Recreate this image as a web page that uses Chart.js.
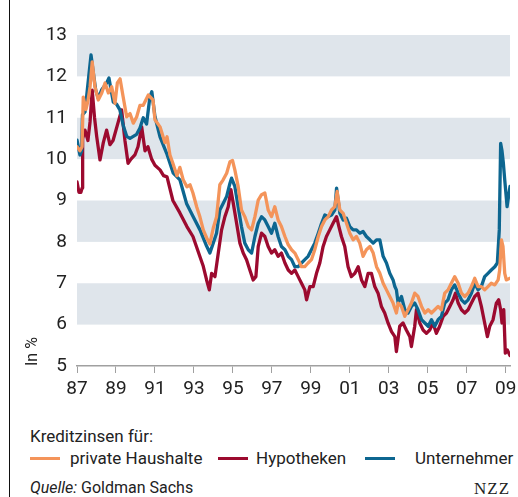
<!DOCTYPE html>
<html><head><meta charset="utf-8">
<script src="https://cdn.jsdelivr.net/npm/chart.js@4.4.1/dist/chart.umd.min.js"></script>
<style>
html,body{margin:0;padding:0;background:#fff;}
#wrap{position:relative;width:518px;height:497px;overflow:hidden;font-family:Roboto,'Liberation Sans',sans-serif;color:#222;}
#frame{position:absolute;left:9px;top:0;width:1px;height:497px;background:#111;}
#c{position:absolute;left:0;top:0;}
.t{position:absolute;white-space:nowrap;line-height:1;}
.sw{position:absolute;height:3px;width:30px;}
</style></head>
<body>
<div id="wrap">
  <canvas id="c" width="518" height="400"></canvas>
  <div id="frame"></div>
  <div class="t" id="legTitle" style="left:30px;top:428px;font-size:17px;">Kreditzinsen für:</div>
  <div id="legend"></div>
  <div class="t" style="left:30px;top:480px;font-size:16px;"><i>Quelle:</i> Goldman Sachs</div>
  <div class="t" style="left:474px;top:480px;font-size:17px;font-family:'Liberation Serif','DejaVu Serif',serif;letter-spacing:1px;">NZZ</div>
</div>
<script>
// ---- data ----
const seriesNames = ['private Haushalte', 'Hypotheken', 'Unternehmer'];
const seriesColors = ['#f4945a', '#9c0a2f', '#0d6690'];

const haushalteYears = [1987.00,1987.15,1987.26,1987.32,1987.46,1987.56,1987.67,1987.78,1987.92,1988.09,1988.27,1988.44,1988.61,1988.78,1988.95,1989.07,1989.21,1989.37,1989.55,1989.72,1989.89,1990.06,1990.23,1990.40,1990.66,1990.90,1991.00,1991.26,1991.51,1991.62,1991.77,1991.92,1992.13,1992.28,1992.45,1992.64,1992.80,1992.95,1993.14,1993.31,1993.48,1993.65,1993.82,1993.99,1994.16,1994.33,1994.50,1994.68,1994.85,1994.98,1995.10,1995.27,1995.44,1995.61,1995.79,1995.96,1996.13,1996.30,1996.47,1996.64,1996.81,1996.98,1997.15,1997.32,1997.49,1997.67,1997.84,1998.01,1998.18,1998.35,1998.52,1998.69,1998.86,1999.03,1999.20,1999.38,1999.55,1999.72,1999.89,2000.06,2000.23,2000.35,2000.49,2000.66,2000.83,2001.00,2001.17,2001.34,2001.51,2001.68,2001.85,2002.03,2002.20,2002.37,2002.54,2002.71,2002.88,2003.05,2003.22,2003.39,2003.48,2003.65,2003.82,2003.99,2004.16,2004.33,2004.50,2004.68,2004.85,2005.02,2005.19,2005.36,2005.53,2005.70,2005.87,2006.04,2006.21,2006.38,2006.56,2006.73,2006.90,2007.07,2007.24,2007.41,2007.58,2007.75,2007.92,2008.09,2008.26,2008.44,2008.61,2008.69,2008.78,2008.86,2008.95,2009.03,2009.22];
const haushalteRates = [10.3,10.2,10.3,11.5,11.2,11.4,11.75,12.35,11.75,11.43,11.6,11.84,11.6,11.75,11.35,11.84,11.94,11.5,11.02,11.1,10.87,11.02,11.3,11.3,11.55,11.43,10.95,10.78,10.4,10.54,10.1,9.9,9.6,9.8,9.5,9.33,9.38,9.18,8.85,8.6,8.29,8.1,7.95,8.33,8.6,9.38,9.5,9.66,9.94,9.97,9.74,9.34,8.77,8.61,8.37,8.29,8.61,9.01,9.14,9.18,8.77,8.61,8.85,8.53,8.37,8.13,7.93,7.81,7.73,7.57,7.4,7.4,7.49,7.57,7.81,8.13,8.37,8.53,8.61,8.77,8.85,9.22,8.77,8.69,8.45,8.21,8.05,8.13,7.97,7.65,7.81,7.89,7.73,7.4,7.24,7.0,6.84,6.68,6.52,6.28,6.52,6.44,6.2,6.36,6.52,6.76,6.68,6.44,6.28,6.36,6.28,6.36,6.44,6.36,6.76,6.84,7.0,7.16,7.0,6.76,6.68,6.76,6.92,7.12,6.92,6.92,6.84,6.92,7.0,6.96,7.08,7.32,8.05,7.89,7.24,7.08,7.12];

const hypothekenYears = [1987.00,1987.10,1987.20,1987.26,1987.29,1987.41,1987.56,1987.67,1987.78,1987.90,1988.01,1988.18,1988.35,1988.52,1988.69,1988.85,1989.10,1989.29,1989.46,1989.62,1989.77,1989.97,1990.13,1990.32,1990.49,1990.64,1990.83,1991.00,1991.26,1991.44,1991.62,1991.92,1992.28,1992.64,1992.95,1993.31,1993.48,1993.65,1993.79,1993.91,1994.08,1994.25,1994.42,1994.59,1994.76,1994.90,1995.02,1995.19,1995.36,1995.53,1995.70,1995.87,1996.04,1996.18,1996.30,1996.47,1996.64,1996.81,1996.98,1997.15,1997.32,1997.49,1997.67,1997.84,1998.01,1998.18,1998.35,1998.52,1998.69,1998.78,1998.95,1999.12,1999.29,1999.46,1999.63,1999.80,1999.97,2000.14,2000.32,2000.44,2000.57,2000.74,2000.91,2001.08,2001.26,2001.43,2001.60,2001.77,2001.94,2002.11,2002.28,2002.45,2002.62,2002.79,2002.96,2003.14,2003.31,2003.39,2003.56,2003.73,2003.90,2004.08,2004.16,2004.33,2004.42,2004.59,2004.76,2004.93,2005.10,2005.27,2005.44,2005.61,2005.79,2005.96,2006.13,2006.30,2006.42,2006.56,2006.73,2006.90,2007.07,2007.24,2007.41,2007.58,2007.75,2007.92,2008.06,2008.18,2008.35,2008.52,2008.64,2008.74,2008.81,2008.90,2008.98,2009.08,2009.22];
const hypothekenRates = [9.45,9.2,9.2,9.3,10.5,10.7,10.45,10.9,11.67,11.0,10.55,9.98,10.4,10.7,10.35,10.45,10.87,11.19,10.45,9.9,10.0,10.1,10.3,10.78,10.2,10.3,10.0,9.85,9.74,9.6,9.57,9.0,8.7,8.37,8.13,7.64,7.41,7.08,6.84,7.24,7.16,7.73,8.29,8.61,8.85,9.26,8.93,8.45,7.97,7.73,7.57,7.32,7.08,7.16,7.89,8.21,8.13,7.89,7.73,7.81,7.65,7.73,7.49,7.32,7.24,7.32,7.16,7.0,6.84,6.6,6.92,6.92,7.24,7.49,7.89,8.13,8.29,8.45,8.61,8.37,8.13,7.89,7.4,7.16,7.24,7.4,7.08,6.92,7.24,7.24,6.92,6.76,6.44,6.28,6.04,5.83,5.71,5.35,5.96,6.04,5.87,5.71,5.47,5.96,6.36,6.04,5.87,5.79,5.87,6.04,5.79,5.96,6.2,6.28,6.44,6.6,6.76,6.52,6.36,6.28,6.36,6.52,6.68,6.76,6.44,6.04,5.71,5.96,6.12,6.52,6.6,6.36,6.04,6.36,5.31,5.39,5.25];

const unternehmerYears = [1987.00,1987.15,1987.24,1987.28,1987.41,1987.58,1987.72,1987.84,1987.96,1988.09,1988.26,1988.52,1988.64,1988.86,1989.03,1989.20,1989.38,1989.55,1989.72,1989.89,1990.06,1990.23,1990.40,1990.57,1990.74,1990.84,1991.00,1991.26,1991.60,1991.94,1992.28,1992.62,1992.97,1993.31,1993.65,1993.82,1993.99,1994.16,1994.33,1994.50,1994.68,1994.85,1994.93,1995.10,1995.27,1995.44,1995.61,1995.79,1995.96,1996.13,1996.30,1996.47,1996.64,1996.81,1996.98,1997.15,1997.32,1997.49,1997.67,1997.84,1998.01,1998.18,1998.35,1998.52,1998.69,1998.86,1999.03,1999.20,1999.38,1999.55,1999.72,1999.89,2000.06,2000.23,2000.32,2000.49,2000.66,2000.83,2001.00,2001.17,2001.34,2001.51,2001.68,2001.85,2002.03,2002.20,2002.37,2002.54,2002.71,2002.88,2003.05,2003.22,2003.31,2003.39,2003.48,2003.65,2003.82,2003.99,2004.16,2004.33,2004.50,2004.68,2004.85,2005.02,2005.19,2005.36,2005.53,2005.70,2005.87,2006.04,2006.21,2006.38,2006.56,2006.73,2006.90,2007.07,2007.24,2007.41,2007.58,2007.75,2007.92,2008.09,2008.26,2008.44,2008.57,2008.67,2008.74,2008.81,2008.88,2008.95,2009.07,2009.22];
const unternehmerRates = [10.46,10.1,10.2,11.07,11.14,11.9,12.52,12.08,11.67,11.47,11.67,11.84,11.96,11.38,11.33,11.19,10.8,10.55,10.5,10.55,10.6,10.75,11.0,10.85,11.5,11.63,11.03,10.54,10.14,9.66,9.5,8.93,8.6,8.29,7.9,7.73,7.97,8.21,8.77,8.93,9.1,9.42,9.54,9.34,8.85,8.37,7.97,7.81,7.73,8.13,8.45,8.61,8.53,8.37,8.21,8.45,8.13,7.89,7.81,7.65,7.57,7.4,7.4,7.49,7.57,7.65,7.81,7.97,8.21,8.45,8.65,8.61,8.65,8.77,9.3,8.69,8.53,8.57,8.37,8.29,8.29,8.21,8.25,8.13,8.05,7.97,8.05,8.05,7.65,7.49,7.24,7.08,6.92,6.84,6.52,6.68,6.36,6.28,6.44,6.52,6.36,6.12,6.04,5.96,6.12,5.96,6.12,6.2,6.52,6.6,6.84,6.96,6.76,6.6,6.52,6.6,6.76,7.0,6.84,6.92,7.16,7.24,7.32,7.4,7.49,8.29,10.38,10.2,9.9,9.5,8.85,9.34];

const xTickYears = [1987,1989,1991,1993,1995,1997,1999,2001,2003,2005,2007,2009];
const xTickLabels = ['87','89','91','93','95','97','99','01','03','05','07','09'];
const yTickValues = [5,6,7,8,9,10,11,12,13];
const bandRanges = [[12,13],[10,11],[8,9],[6,7]];

const toPts = (xs, ys) => xs.map((x, i) => ({x: x, y: ys[i]}));

const bandPlugin = {
  id: 'bands',
  beforeDatasetsDraw(chart) {
    const {ctx, chartArea, scales: {y}} = chart;
    ctx.save();
    ctx.fillStyle = '#dfe5eb';
    bandRanges.forEach(([a, b]) => {
      const y1 = y.getPixelForValue(b), y2 = y.getPixelForValue(a);
      ctx.fillRect(chartArea.left, y1, chartArea.right - chartArea.left, y2 - y1);
    });
    ctx.restore();
  }
};

const FONT = 'Roboto, "Liberation Sans", sans-serif';

const chart = new Chart(document.getElementById('c'), {
  type: 'line',
  data: {
    datasets: [
      {label: seriesNames[0], data: toPts(haushalteYears, haushalteRates), borderColor: seriesColors[0], order: 0},
      {label: seriesNames[1], data: toPts(hypothekenYears, hypothekenRates), borderColor: seriesColors[1], order: 2},
      {label: seriesNames[2], data: toPts(unternehmerYears, unternehmerRates), borderColor: seriesColors[2], order: 1}
    ]
  },
  options: {
    responsive: false,
    animation: false,
    parsing: false,
    elements: {line: {borderWidth: 3.3, tension: 0, borderJoinStyle: 'round', borderCapStyle: 'round'}, point: {radius: 0}},
    layout: {padding: {left: 20, top: 35, right: 8, bottom: 4}},
    plugins: {legend: {display: false}, tooltip: {enabled: false}},
    scales: {
      x: {
        type: 'linear', min: 1987, max: 2009.22,
        afterBuildTicks: s => { s.ticks = xTickYears.map(v => ({value: v})); },
        afterFit: s => { s.height = 30; s.paddingLeft = 0; s.paddingRight = 0; },
        grid: {display: true, drawOnChartArea: false, drawTicks: true, tickLength: 7, color: '#a0a0a0', lineWidth: 1},
        border: {display: true, color: '#a0a0a0', width: 1.5},
        ticks: {autoSkip: false, maxRotation: 0, padding: 5, color: '#222', font: {family: FONT, size: 19},
                callback: (v, i) => xTickLabels[i]}
      },
      y: {
        min: 5, max: 13,
        afterBuildTicks: s => { s.ticks = yTickValues.map(v => ({value: v})); },
        afterFit: s => { s.width = 57; s.paddingTop = 0; s.paddingBottom = 0; },
        grid: {display: false, drawTicks: false},
        border: {display: false},
        ticks: {padding: 10, color: '#222', font: {family: FONT, size: 19}},
        title: {display: true, text: 'In %', align: 'start', color: '#222', font: {family: FONT, size: 16}, padding: {top: 3, bottom: 0}}
      }
    }
  },
  plugins: [bandPlugin]
});

// HTML legend built from the series
const legendPos = [{sw: 30, tx: 70}, {sw: 218, tx: 256}, {sw: 365, tx: 415}];
const leg = document.getElementById('legend');
seriesNames.forEach((n, i) => {
  const s = document.createElement('div');
  s.className = 'sw';
  s.style.left = legendPos[i].sw + 'px';
  s.style.top = '457px';
  s.style.background = seriesColors[i];
  leg.appendChild(s);
  const t = document.createElement('div');
  t.className = 't';
  t.style.left = legendPos[i].tx + 'px';
  t.style.top = '450px';
  t.style.fontSize = '17px';
  t.textContent = n;
  leg.appendChild(t);
});
</script>
</body></html>
